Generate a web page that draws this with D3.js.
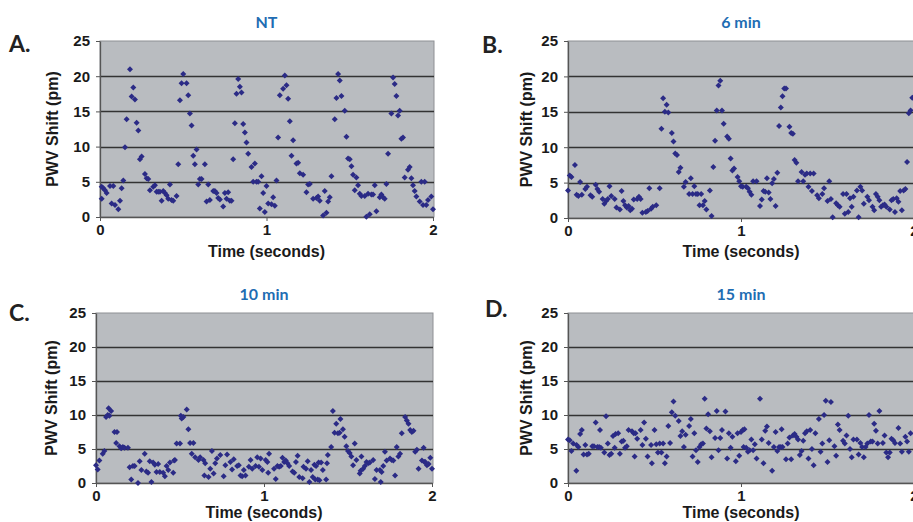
<!DOCTYPE html>
<html>
<head>
<meta charset="utf-8">
<script src="https://cdn.jsdelivr.net/npm/d3@7"></script>
<style>
body { margin: 0; background: #fff; }
svg { display: block; }
</style>
</head>
<body>
<script>
"use strict";

// panel texts and axis ticks
var panelTitles = ["NT", "6 min", "10 min", "15 min"];
var panelLetters = ["A.", "B.", "C.", "D."];
var yTicks = [0, 5, 10, 15, 20, 25];
var xTicks = [0, 1, 2];

// [time (s), PWV shift (pm)]
var ntPts = [
 [0.01,4.3],[0.02,4.1],[0.03,3.8],[0.04,3.4],[0.01,2.6],[0.06,4.4],[0.08,4.4],[0.07,1.9],[0.09,1.7],[0.11,1.1],
 [0.12,2.3],[0.13,4.1],[0.14,5.2],[0.15,9.9],[0.16,13.9],[0.18,21.0],[0.19,17.1],[0.20,18.4],[0.21,16.7],[0.22,13.4],
 [0.23,12.3],[0.24,8.2],[0.25,8.6],[0.27,6.1],[0.28,5.5],[0.29,5.4],[0.30,3.8],[0.32,4.3],[0.33,4.5],[0.34,3.6],
 [0.35,3.6],[0.36,3.6],[0.37,2.3],[0.38,3.7],[0.39,3.4],[0.40,3.1],[0.41,2.6],[0.42,4.6],[0.43,2.4],[0.44,2.3],
 [0.46,3.0],[0.47,7.5],[0.48,16.6],[0.49,19.0],[0.50,20.3],[0.52,19.0],[0.53,17.3],[0.54,14.7],[0.55,13.0],[0.56,8.7],
 [0.57,7.5],[0.58,9.6],[0.59,4.6],[0.60,5.4],[0.61,5.4],[0.63,7.5],[0.64,2.2],[0.65,4.6],[0.66,2.4],[0.68,3.7],
 [0.69,3.7],[0.70,3.4],[0.71,2.7],[0.72,2.5],[0.74,1.5],[0.75,3.4],[0.76,2.6],[0.77,3.5],[0.78,2.3],[0.79,2.3],
 [0.80,8.2],[0.81,13.3],[0.82,17.5],[0.83,19.6],[0.84,18.5],[0.85,17.7],[0.86,13.2],[0.87,12.0],[0.88,10.6],[0.89,9.0],
 [0.91,7.1],[0.92,5.0],[0.93,7.6],[0.94,5.0],[0.95,5.0],[0.96,1.2],[0.97,5.8],[0.98,3.4],[0.99,0.7],[1.00,4.4],
 [1.01,1.9],[1.03,1.8],[1.04,2.8],[1.05,1.6],[1.06,5.2],[1.07,11.3],[1.08,17.3],[1.10,18.2],[1.11,20.1],[1.12,18.7],
 [1.13,16.8],[1.14,13.6],[1.15,8.7],[1.16,10.9],[1.18,7.6],[1.19,7.7],[1.20,6.2],[1.22,6.0],[1.24,3.5],[1.25,4.6],
 [1.26,4.7],[1.28,2.6],[1.30,2.7],[1.31,2.9],[1.32,2.3],[1.34,0.2],[1.35,3.7],[1.36,0.6],[1.37,2.2],[1.38,2.8],
 [1.39,5.8],[1.41,13.9],[1.42,16.9],[1.43,20.3],[1.44,19.4],[1.45,17.2],[1.47,15.1],[1.48,11.4],[1.49,8.3],[1.50,8.2],
 [1.51,7.2],[1.52,6.0],[1.53,3.8],[1.54,5.6],[1.55,4.5],[1.56,3.3],[1.57,3.0],[1.59,3.0],[1.60,0.05],[1.61,3.3],
 [1.62,0.4],[1.63,3.2],[1.64,3.2],[1.65,4.5],[1.66,0.8],[1.68,2.8],[1.69,3.2],[1.70,2.8],[1.71,2.6],[1.72,4.7],
 [1.73,9.0],[1.75,14.7],[1.76,19.8],[1.77,18.9],[1.78,17.2],[1.79,14.4],[1.80,15.1],[1.81,11.1],[1.82,11.3],[1.83,5.6],
 [1.85,6.7],[1.86,7.1],[1.87,5.5],[1.88,4.5],[1.89,3.7],[1.90,2.9],[1.92,2.2],[1.93,5.0],[1.94,1.7],[1.95,5.0],
 [1.96,1.7],[1.97,2.4],[1.99,2.9],[2.00,1.1]
];

var min6Pts = [
 [0.00,3.9],[0.01,6.0],[0.02,5.8],[0.04,7.5],[0.05,3.3],[0.06,3.1],[0.07,5.1],[0.08,3.3],[0.10,4.1],[0.11,4.4],
 [0.13,3.2],[0.14,3.0],[0.16,4.7],[0.17,4.1],[0.18,3.7],[0.20,2.7],[0.21,2.0],[0.22,2.4],[0.23,2.7],[0.24,4.5],
 [0.25,3.1],[0.27,2.7],[0.28,1.5],[0.30,1.2],[0.31,3.8],[0.32,2.4],[0.33,1.8],[0.34,1.5],[0.35,1.7],[0.36,1.1],
 [0.37,1.3],[0.38,2.6],[0.40,2.7],[0.41,3.0],[0.42,2.7],[0.43,0.75],[0.45,0.85],[0.46,1.0],[0.47,4.2],[0.48,1.3],
 [0.49,1.6],[0.51,1.8],[0.53,4.2],[0.54,12.6],[0.55,16.9],[0.56,15.0],[0.57,16.0],[0.58,14.9],[0.60,12.0],[0.61,10.8],
 [0.62,9.1],[0.63,8.9],[0.64,6.5],[0.65,7.1],[0.67,4.4],[0.68,5.1],[0.70,3.4],[0.71,5.6],[0.72,3.4],[0.73,4.5],
 [0.74,3.4],[0.75,3.4],[0.76,1.8],[0.77,3.4],[0.78,1.8],[0.79,2.4],[0.80,1.2],[0.82,3.9],[0.83,0.3],[0.84,7.2],
 [0.85,10.9],[0.86,15.2],[0.87,18.7],[0.88,19.4],[0.89,15.2],[0.90,13.3],[0.92,11.5],[0.93,11.2],[0.94,8.4],[0.95,6.7],
 [0.96,7.0],[0.98,5.8],[0.99,5.2],[1.00,4.5],[1.01,4.4],[1.03,4.4],[1.04,4.2],[1.05,3.7],[1.06,3.3],[1.07,5.2],
 [1.09,5.2],[1.11,1.7],[1.12,2.6],[1.13,3.8],[1.14,3.7],[1.15,5.6],[1.16,3.6],[1.17,2.7],[1.18,4.9],[1.19,5.5],
 [1.20,1.7],[1.21,6.4],[1.22,13.0],[1.23,15.6],[1.24,17.2],[1.25,18.3],[1.26,18.3],[1.28,12.9],[1.29,12.0],[1.30,11.9],
 [1.31,8.2],[1.32,7.8],[1.33,5.2],[1.35,6.5],[1.36,5.2],[1.37,6.1],[1.38,6.3],[1.39,4.4],[1.40,6.3],[1.41,3.8],
 [1.42,6.3],[1.44,3.2],[1.45,2.8],[1.47,3.4],[1.48,4.2],[1.50,2.4],[1.51,5.2],[1.52,2.7],[1.53,0.1],[1.55,2.1],
 [1.56,1.8],[1.57,1.6],[1.59,3.4],[1.60,0.6],[1.61,3.4],[1.62,0.85],[1.63,2.8],[1.64,1.6],[1.65,3.0],[1.67,3.9],
 [1.68,0.1],[1.69,4.4],[1.70,3.9],[1.71,2.0],[1.73,3.0],[1.74,2.5],[1.76,1.6],[1.77,1.1],[1.78,3.4],[1.79,3.0],
 [1.80,2.5],[1.81,1.6],[1.82,1.8],[1.83,1.9],[1.84,1.6],[1.86,1.2],[1.87,2.5],[1.88,2.7],[1.89,0.85],[1.90,2.8],
 [1.91,2.3],[1.92,3.8],[1.93,1.1],[1.94,3.9],[1.95,4.1],[1.96,7.9],[1.97,14.8],[1.98,15.2],[1.99,17.0]
];

var min10Pts = [
 [0.00,2.6],[0.01,2.0],[0.02,3.3],[0.04,4.3],[0.05,4.7],[0.06,9.7],[0.07,10.0],[0.075,11.0],[0.08,9.9],[0.09,10.6],
 [0.11,7.5],[0.12,5.9],[0.125,7.5],[0.14,5.4],[0.15,5.1],[0.16,5.3],[0.17,5.2],[0.19,5.2],[0.20,2.3],[0.21,0.5],
 [0.22,2.5],[0.23,2.5],[0.25,0.0],[0.26,3.2],[0.27,1.9],[0.29,4.3],[0.30,1.7],[0.31,1.5],[0.32,3.2],[0.33,0.15],
 [0.34,3.0],[0.35,2.7],[0.36,1.6],[0.37,2.8],[0.38,1.6],[0.40,1.5],[0.41,1.0],[0.42,2.5],[0.43,1.9],[0.44,3.0],
 [0.46,1.5],[0.465,3.3],[0.47,3.4],[0.48,5.8],[0.50,5.8],[0.505,9.9],[0.51,9.5],[0.52,9.7],[0.54,10.8],[0.55,7.9],
 [0.56,5.9],[0.57,4.3],[0.58,5.9],[0.59,3.8],[0.61,3.4],[0.62,3.8],[0.64,3.4],[0.645,1.1],[0.65,2.9],[0.67,0.9],
 [0.68,2.1],[0.69,4.7],[0.70,1.4],[0.71,2.9],[0.72,3.6],[0.74,4.1],[0.76,1.0],[0.77,2.6],[0.78,4.2],[0.80,3.1],
 [0.81,2.0],[0.82,3.5],[0.84,2.5],[0.85,2.6],[0.86,1.1],[0.87,1.0],[0.88,1.9],[0.89,1.1],[0.91,2.4],[0.92,3.4],
 [0.93,2.1],[0.95,2.5],[0.96,3.8],[0.97,2.4],[0.98,3.6],[0.99,1.9],[1.01,3.4],[1.02,3.1],[1.03,4.3],[1.025,1.5],
 [1.06,2.1],[1.07,0.6],[1.08,2.5],[1.09,2.4],[1.10,2.5],[1.11,3.7],[1.12,3.1],[1.13,3.3],[1.14,2.9],[1.15,2.5],
 [1.17,1.7],[1.18,1.5],[1.19,3.1],[1.20,4.0],[1.21,0.9],[1.23,0.7],[1.235,2.4],[1.25,2.1],[1.26,3.2],[1.27,0.15],
 [1.28,1.9],[1.29,0.9],[1.30,2.7],[1.305,0.5],[1.31,2.5],[1.32,0.5],[1.325,3.0],[1.33,0.4],[1.34,3.0],[1.35,1.9],
 [1.37,0.5],[1.375,2.9],[1.38,4.1],[1.40,5.3],[1.41,10.6],[1.42,7.4],[1.43,8.7],[1.44,7.3],[1.45,7.4],[1.455,9.4],
 [1.47,7.9],[1.48,6.8],[1.49,5.4],[1.50,4.7],[1.51,4.4],[1.52,3.9],[1.53,2.6],[1.54,5.8],[1.55,3.4],[1.57,1.4],
 [1.575,1.8],[1.58,3.9],[1.59,2.1],[1.60,2.5],[1.61,3.1],[1.62,2.9],[1.63,3.0],[1.65,3.4],[1.66,0.6],[1.67,1.9],
 [1.69,1.9],[1.695,0.15],[1.70,1.6],[1.71,2.5],[1.72,4.6],[1.73,3.3],[1.75,3.6],[1.76,3.4],[1.77,3.3],[1.78,1.1],
 [1.79,5.3],[1.80,3.9],[1.81,4.3],[1.82,7.3],[1.84,9.7],[1.85,9.2],[1.86,8.7],[1.87,7.8],[1.88,7.5],[1.89,7.7],
 [1.90,4.6],[1.91,4.9],[1.92,2.1],[1.94,3.3],[1.95,5.2],[1.955,3.1],[1.96,3.1],[1.97,2.6],[1.98,2.8],[1.99,3.7],
 [2.00,2.1]
];

var min15Pts = [
 [0.00,6.4],[0.01,6.3],[0.02,4.7],[0.03,5.8],[0.05,5.6],[0.048,1.8],[0.06,5.3],[0.07,7.2],[0.08,7.8],[0.09,4.2],
 [0.10,5.6],[0.11,4.2],[0.12,4.3],[0.14,5.4],[0.15,5.4],[0.16,8.9],[0.17,5.3],[0.18,5.3],[0.185,7.8],[0.19,5.2],
 [0.21,4.5],[0.22,9.8],[0.23,5.8],[0.24,4.1],[0.25,4.3],[0.26,6.9],[0.27,5.2],[0.275,7.2],[0.29,7.3],[0.30,4.3],
 [0.31,6.1],[0.32,6.2],[0.33,5.2],[0.34,5.4],[0.35,7.8],[0.37,7.6],[0.38,7.3],[0.385,3.9],[0.39,7.3],[0.40,6.5],
 [0.42,7.8],[0.43,5.6],[0.44,8.9],[0.45,6.5],[0.46,3.9],[0.48,5.6],[0.485,2.9],[0.50,7.8],[0.51,5.7],[0.52,4.5],
 [0.53,5.8],[0.54,4.5],[0.55,5.8],[0.56,2.9],[0.57,3.9],[0.58,8.4],[0.59,5.9],[0.60,10.4],[0.61,12.0],[0.62,9.9],
 [0.64,9.1],[0.65,6.9],[0.66,7.6],[0.67,5.3],[0.68,7.1],[0.70,8.4],[0.71,9.4],[0.72,3.9],[0.73,7.3],[0.74,4.8],
 [0.75,3.1],[0.76,5.3],[0.77,5.7],[0.78,5.8],[0.79,12.4],[0.80,8.0],[0.81,10.1],[0.82,7.6],[0.83,3.8],[0.85,6.6],
 [0.86,10.6],[0.87,4.8],[0.88,6.6],[0.89,7.8],[0.91,10.5],[0.92,3.6],[0.93,7.3],[0.94,5.2],[0.95,6.8],[0.97,3.2],
 [0.98,7.3],[0.99,4.0],[1.00,7.5],[1.01,7.8],[1.015,5.3],[1.02,7.9],[1.03,5.2],[1.04,4.6],[1.05,4.8],[1.06,6.4],
 [1.07,4.8],[1.08,5.7],[1.09,3.6],[1.11,12.4],[1.12,6.4],[1.13,2.9],[1.14,7.7],[1.15,8.3],[1.16,5.9],[1.18,1.8],
 [1.19,5.3],[1.20,7.5],[1.21,4.7],[1.22,5.3],[1.23,5.3],[1.235,7.9],[1.24,5.3],[1.26,3.5],[1.27,5.8],[1.28,6.7],
 [1.29,3.5],[1.30,7.0],[1.31,7.2],[1.32,6.8],[1.33,6.4],[1.34,4.1],[1.35,4.7],[1.36,6.2],[1.37,7.3],[1.38,7.6],
 [1.39,3.6],[1.40,7.8],[1.41,5.0],[1.42,2.6],[1.43,7.3],[1.45,9.4],[1.46,4.6],[1.47,5.8],[1.48,10.0],[1.49,12.1],
 [1.50,3.1],[1.51,6.3],[1.52,11.9],[1.54,5.4],[1.55,4.0],[1.56,8.6],[1.57,7.8],[1.59,6.2],[1.60,5.8],[1.61,7.0],
 [1.62,9.9],[1.63,5.0],[1.64,3.8],[1.65,6.4],[1.67,6.4],[1.68,4.2],[1.69,5.9],[1.70,5.3],[1.71,3.8],[1.72,5.3],
 [1.73,5.8],[1.74,10.0],[1.75,6.1],[1.76,6.1],[1.77,8.7],[1.78,7.7],[1.79,5.8],[1.80,10.6],[1.82,5.9],[1.83,7.0],
 [1.84,4.5],[1.85,3.8],[1.86,4.5],[1.87,6.5],[1.88,6.3],[1.89,5.9],[1.91,8.1],[1.92,5.8],[1.93,4.6],[1.95,6.8],
 [1.96,6.1],[1.97,4.6],[1.98,7.3]
];

var seriesList = [ntPts, min6Pts, min10Pts, min15Pts];

// pixel layout of the four panels
var layout = [
    {left: 100, right: 433, top: 41, bottom: 217, letterX: 9, letterY: 52, ylabelX: 52, xlabelDy: 40},
    {left: 568, right: 914, top: 41, bottom: 218, letterX: 482, letterY: 53, ylabelX: 526, xlabelDy: 39},
    {left: 96, right: 432, top: 313, bottom: 483, letterX: 9, letterY: 321, ylabelX: 51, xlabelDy: 35},
    {left: 568, right: 914, top: 313, bottom: 483, letterX: 485, letterY: 317, ylabelX: 526, xlabelDy: 35}
];

var labelFont = "'Liberation Sans', Arial, sans-serif";

var svg = d3.select("body").append("svg")
    .attr("width", 913)
    .attr("height", 522);

var marker = d3.symbol().type(d3.symbolSquare).size(18);

for (var p = 0; p < 4; p++) {
    var L = layout[p];
    var x = d3.scaleLinear().domain([0, 2]).range([L.left, L.right]);
    var y = d3.scaleLinear().domain([0, 25]).range([L.bottom, L.top]);
    var g = svg.append("g");

    // plot background
    g.append("rect")
        .attr("x", L.left).attr("y", L.top)
        .attr("width", x(2) - L.left + 1).attr("height", L.bottom - L.top)
        .attr("fill", "#b9bcc0")
        .attr("stroke", "#8e9094").attr("stroke-width", 1);

    // gridlines
    g.selectAll(".grid").data(yTicks.filter(function(d) { return d > 0 && d < 25; }))
        .enter().append("line")
        .attr("x1", L.left).attr("x2", x(2) + 1)
        .attr("y1", function(d) { return Math.round(y(d)) + 0.5; })
        .attr("y2", function(d) { return Math.round(y(d)) + 0.5; })
        .attr("stroke", "#333").attr("stroke-width", 1.4);

    // y axis
    var yAxis = g.append("g")
        .attr("transform", "translate(" + L.left + ",0)")
        .call(d3.axisLeft(y).tickValues(yTicks).tickSize(4).tickPadding(6).tickSizeOuter(0));
    // x axis
    var xAxis = g.append("g")
        .attr("transform", "translate(0," + L.bottom + ")")
        .call(d3.axisBottom(x).tickValues(xTicks).tickFormat(d3.format("d"))
            .tickSize(4).tickPadding(3).tickSizeOuter(0));

    [yAxis, xAxis].forEach(function(ax) {
        ax.select(".domain").attr("stroke", "#555").attr("stroke-width", 1.3);
        ax.selectAll(".tick line").attr("stroke", "#555");
        ax.selectAll("text")
            .attr("fill", "#1a1a1a")
            .style("font-family", labelFont)
            .style("font-weight", "bold")
            .style("font-size", "15px");
    });

    // points
    g.selectAll(".pt").data(seriesList[p])
        .enter().append("path")
        .attr("d", marker)
        .attr("transform", function(d) {
            return "translate(" + x(d[0]) + "," + y(d[1]) + ") rotate(45)";
        })
        .attr("fill", "#2b2b86");

    var midX = p % 2 ? L.left + 173 : (L.left + L.right) / 2;

    // axis titles
    g.append("text")
        .attr("x", midX)
        .attr("y", L.bottom + L.xlabelDy)
        .attr("text-anchor", "middle")
        .attr("fill", "#1a1a1a")
        .style("font-family", labelFont)
        .style("font-weight", "bold")
        .style("font-size", "16px")
        .text("Time (seconds)");

    g.append("text")
        .attr("transform", "translate(" + L.ylabelX + "," + (L.top + L.bottom) / 2 + ") rotate(-90)")
        .attr("text-anchor", "middle")
        .attr("dy", "0.35em")
        .attr("fill", "#1a1a1a")
        .style("font-family", labelFont)
        .style("font-weight", "bold")
        .style("font-size", "16px")
        .text("PWV Shift (pm)");

    // panel title
    g.append("text")
        .attr("x", midX)
        .attr("y", L.top - 13)
        .attr("text-anchor", "middle")
        .attr("fill", "#1f6db3")
        .style("font-family", "Lato, 'Open Sans', sans-serif")
        .style("font-weight", "bold")
        .style("font-size", "16px")
        .text(panelTitles[p]);

    // panel letter
    g.append("text")
        .attr("x", L.letterX)
        .attr("y", L.letterY)
        .attr("fill", "#222")
        .style("font-family", "Lato, 'Open Sans', sans-serif")
        .style("font-weight", "bold")
        .style("font-size", "23px")
        .text(panelLetters[p]);
}
</script>
</body>
</html>
